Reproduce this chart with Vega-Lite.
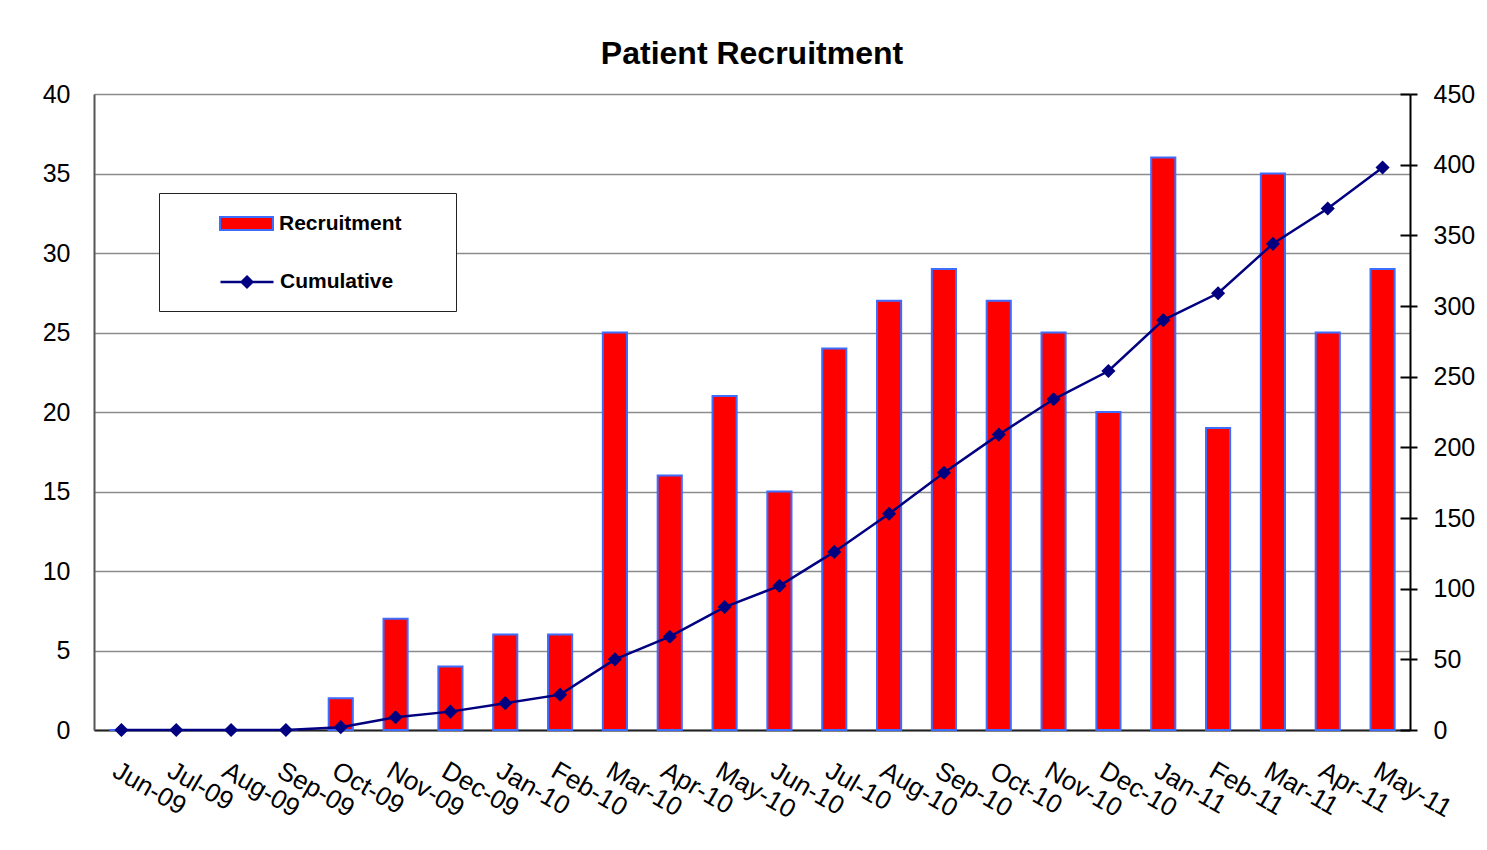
{
  "$schema": "https://vega.github.io/schema/vega-lite/v6.json",
  "width": 1316,
  "height": 636,
  "autosize": {"type": "none"},
  "padding": {"left": 94, "top": 94, "right": 77, "bottom": 120},
  "background": "white",
  "config": {
    "font": "Liberation Sans",
    "view": {"stroke": null}
  },
  "title": {
    "text": "Patient Recruitment",
    "font": "Liberation Sans",
    "fontSize": 32,
    "fontWeight": "bold",
    "color": "black",
    "anchor": "middle",
    "frame": "group",
    "baseline": "alphabetic",
    "offset": -14
  },
  "data": {
    "values": [
      {"month": "Jun-09", "recruitment": 0, "cumulative": 0},
      {"month": "Jul-09", "recruitment": 0, "cumulative": 0},
      {"month": "Aug-09", "recruitment": 0, "cumulative": 0},
      {"month": "Sep-09", "recruitment": 0, "cumulative": 0},
      {"month": "Oct-09", "recruitment": 2, "cumulative": 2},
      {"month": "Nov-09", "recruitment": 7, "cumulative": 9},
      {"month": "Dec-09", "recruitment": 4, "cumulative": 13},
      {"month": "Jan-10", "recruitment": 6, "cumulative": 19},
      {"month": "Feb-10", "recruitment": 6, "cumulative": 25},
      {"month": "Mar-10", "recruitment": 25, "cumulative": 50},
      {"month": "Apr-10", "recruitment": 16, "cumulative": 66},
      {"month": "May-10", "recruitment": 21, "cumulative": 87},
      {"month": "Jun-10", "recruitment": 15, "cumulative": 102},
      {"month": "Jul-10", "recruitment": 24, "cumulative": 126},
      {"month": "Aug-10", "recruitment": 27, "cumulative": 153},
      {"month": "Sep-10", "recruitment": 29, "cumulative": 182},
      {"month": "Oct-10", "recruitment": 27, "cumulative": 209},
      {"month": "Nov-10", "recruitment": 25, "cumulative": 234},
      {"month": "Dec-10", "recruitment": 20, "cumulative": 254},
      {"month": "Jan-11", "recruitment": 36, "cumulative": 290},
      {"month": "Feb-11", "recruitment": 19, "cumulative": 309},
      {"month": "Mar-11", "recruitment": 35, "cumulative": 344},
      {"month": "Apr-11", "recruitment": 25, "cumulative": 369},
      {"month": "May-11", "recruitment": 29, "cumulative": 398}
    ]
  },
  "encoding": {
    "x": {
      "field": "month",
      "type": "nominal",
      "sort": null,
      "scale": {"paddingInner": 0.56, "paddingOuter": 0.28},
      "axis": {
        "title": null,
        "domainColor": "#222222",
        "domainWidth": 2,
        "ticks": false,
        "grid": false,
        "labelAngle": 30,
        "labelAlign": "left",
        "labelBaseline": "top",
        "labelPadding": 27,
        "labelFontSize": 26,
        "labelColor": "black",
        "labelFont": "Liberation Sans"
      }
    }
  },
  "layer": [
    {
      "mark": {"type": "bar", "stroke": "#3d6dff", "strokeWidth": 2},
      "encoding": {
        "y": {
          "field": "recruitment",
          "type": "quantitative",
          "scale": {"domain": [0, 40], "nice": false},
          "axis": {
            "title": null,
            "orient": "left",
            "values": [0, 5, 10, 15, 20, 25, 30, 35, 40],
            "grid": true,
            "gridColor": "#8c8c8c",
            "gridWidth": 1.5,
            "domainColor": "#555555",
            "domainWidth": 2,
            "ticks": false,
            "labelPadding": 24,
            "labelFontSize": 25,
            "labelColor": "black",
            "labelFont": "Liberation Sans"
          }
        },
        "color": {
          "datum": "Recruitment",
          "type": "nominal",
          "scale": {"domain": ["Recruitment"], "range": ["#ff0000"]},
          "legend": {
            "title": null,
            "orient": "none",
            "legendX": 65,
            "legendY": 99,
            "padding": 3,
            "strokeColor": "#222222",
            "fillColor": "white",
            "symbolType": "M-1,-0.245H1V0.245H-1ZM7.64,3.02",
            "symbolSize": 2809,
            "symbolOffset": 57,
            "symbolStrokeColor": "#3d6dff",
            "symbolStrokeWidth": 2,
            "labelOffset": 5,
            "labelFont": "Liberation Sans",
            "labelFontSize": 21,
            "labelFontWeight": "bold",
            "labelColor": "black"
          }
        }
      }
    },
    {
      "mark": {"type": "line", "strokeWidth": 2.5},
      "encoding": {
        "y": {
          "field": "cumulative",
          "type": "quantitative",
          "scale": {"domain": [0, 450], "nice": false},
          "axis": {
            "title": null,
            "orient": "right",
            "values": [0, 50, 100, 150, 200, 250, 300, 350, 400, 450],
            "grid": false,
            "domainColor": "black",
            "domainWidth": 2,
            "tickColor": "black",
            "tickWidth": 2,
            "tickSize": 7,
            "labelPadding": 16,
            "labelFontSize": 25,
            "labelColor": "black",
            "labelFont": "Liberation Sans"
          }
        },
        "stroke": {
          "datum": "Cumulative",
          "type": "nominal",
          "scale": {"domain": ["Cumulative"], "range": ["#000080"]},
          "legend": {
            "title": null,
            "orient": "none",
            "legendX": 65,
            "legendY": 160,
            "padding": 0,
            "symbolType": "M-1,0H1M0,-0.2L0.2,0L0,0.2L-0.2,0Z",
            "symbolSize": 2809,
            "symbolOffset": 60,
            "symbolStrokeWidth": 2.5,
            "symbolFillColor": "#000080",
            "labelOffset": 5,
            "labelFont": "Liberation Sans",
            "labelFontSize": 21,
            "labelFontWeight": "bold",
            "labelColor": "black"
          }
        }
      }
    },
    {
      "mark": {"type": "point", "shape": "diamond", "size": 200, "filled": true, "fill": "#000080", "opacity": 1},
      "encoding": {
        "y": {
          "field": "cumulative",
          "type": "quantitative",
          "scale": {"domain": [0, 450], "nice": false},
          "axis": {
            "title": null,
            "orient": "right",
            "values": [0, 50, 100, 150, 200, 250, 300, 350, 400, 450],
            "grid": false,
            "domain": false,
            "labels": false,
            "ticks": true,
            "tickColor": "black",
            "tickWidth": 2,
            "tickSize": -10
          }
        }
      }
    }
  ],
  "resolve": {"scale": {"y": "independent"}}
}
